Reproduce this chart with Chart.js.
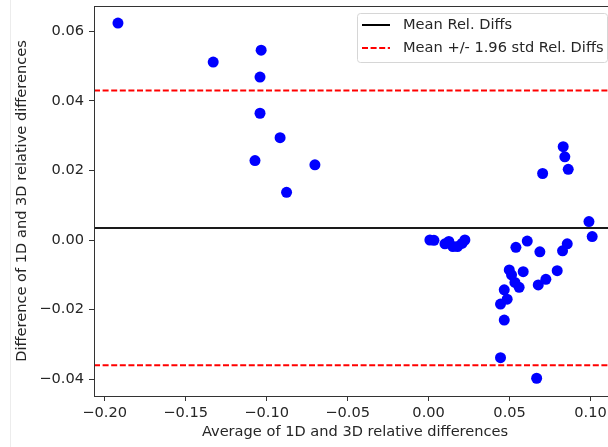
<!DOCTYPE html>
<html>
<head>
<meta charset="utf-8">
<script src="https://cdn.jsdelivr.net/npm/chart.js@4.4.1/dist/chart.umd.min.js"></script>
<style>
  html, body { margin: 0; padding: 0; background: #fff; overflow: hidden; }
  #wrap { position: relative; width: 608px; height: 447px; overflow: hidden; }
  #edge { position: absolute; left: 10px; top: 0; width: 1px; height: 447px; background: #ececec; }
  canvas { position: absolute; left: 0; top: 0; }
</style>
</head>
<body>
<div id="wrap">
  <div id="edge"></div>
  <canvas id="chart" width="630" height="447"></canvas>
</div>
<script>
// averages (x) and differences (y) of 1D / 3D relative differences
const avgX = [
    -0.1918, -0.1330, -0.1034, -0.1041, -0.1041, -0.0917, -0.1072, -0.0702, -0.0877,
    0.0008, 0.0033, 0.0101, 0.0125, 0.0150, 0.0178, 0.0206, 0.0224,
    0.0539, 0.0609, 0.0687, 0.0856, 0.0827, 0.0498, 0.0512, 0.0584, 0.0533, 0.0559,
    0.0794, 0.0724, 0.0677, 0.0467, 0.0485, 0.0444, 0.0467, 0.0444, 0.0667,
    0.0704, 0.0831, 0.0841, 0.0862, 0.0990, 0.1010
];
const diffY = [
    0.0623, 0.0511, 0.0545, 0.0468, 0.0364, 0.0294, 0.0228, 0.0216, 0.0137,
    0.0000, -0.0001, -0.0011, -0.0004, -0.0019, -0.0019, -0.0010, 0.0000,
    -0.0021, -0.0003, -0.0034, -0.0011, -0.0031, -0.0086, -0.0100, -0.0091, -0.0122, -0.0136,
    -0.0088, -0.0113, -0.0129, -0.0143, -0.0170, -0.0184, -0.0230, -0.0338, -0.0397,
    0.0191, 0.0268, 0.0239, 0.0203, 0.0053, 0.0010
];
const meanDiff = 0.00345;
const upperLimit = 0.0429;
const lowerLimit = -0.0360;

const xTicks = [-0.20, -0.15, -0.10, -0.05, 0.00, 0.05, 0.10];
const yTicks = [-0.04, -0.02, 0.00, 0.02, 0.04, 0.06];
const xMin = -0.2066, xMax = 0.1157;
const yMin = -0.0448, yMax = 0.0672;

const legendLabels = ['Mean Rel. Diffs', 'Mean +/- 1.96 std Rel. Diffs'];

const points = avgX.map((x, i) => ({ x: x, y: diffY[i] }));
const hline = v => [{ x: xMin, y: v }, { x: xMax, y: v }];

const fontFamily = "'DejaVu Sans', sans-serif";
const fontSize = 14.6;
const textColor = '#262626';

// top / right spines + legend box like matplotlib
const framePlugin = {
    id: 'frame',
    afterDraw(chart) {
        const { ctx, chartArea: a } = chart;
        ctx.save();
        ctx.strokeStyle = '#333';
        ctx.lineWidth = 1;
        ctx.strokeRect(Math.round(a.left) + 0.5, Math.round(a.top) + 0.5,
            Math.round(a.right - a.left), Math.round(a.bottom - a.top));

        // legend
        const bx = 357, by = 13, bw = 250, bh = 49;
        ctx.fillStyle = 'rgba(255,255,255,0.8)';
        ctx.strokeStyle = '#d6d6d6';
        ctx.beginPath();
        ctx.roundRect(bx + 0.5, by + 0.5, bw, bh, 3);
        ctx.fill();
        ctx.stroke();

        ctx.font = fontSize + 'px ' + fontFamily;
        ctx.textBaseline = 'middle';
        ctx.fillStyle = textColor;
        const rows = [by + 12, by + 35];
        ctx.lineWidth = 2;
        ctx.strokeStyle = '#000';
        ctx.beginPath();
        ctx.moveTo(362, rows[0]); ctx.lineTo(390, rows[0]);
        ctx.stroke();
        ctx.strokeStyle = '#ff0000';
        ctx.setLineDash([6, 2.6]);
        ctx.beginPath();
        ctx.moveTo(362, rows[1]); ctx.lineTo(390, rows[1]);
        ctx.stroke();
        ctx.setLineDash([]);
        legendLabels.forEach((t, i) => ctx.fillText(t, 403, rows[i]));
        ctx.restore();
    }
};

new Chart(document.getElementById('chart'), {
    type: 'scatter',
    data: {
        datasets: [
            {
                label: 'points',
                data: points,
                backgroundColor: '#0000ff',
                borderWidth: 0,
                pointRadius: 5.5,
                pointHoverRadius: 5.5
            },
            {
                label: legendLabels[0],
                type: 'line',
                data: hline(meanDiff),
                borderColor: '#1a1a1a',
                borderWidth: 2,
                pointRadius: 0
            },
            {
                label: legendLabels[1],
                type: 'line',
                data: hline(upperLimit),
                borderColor: '#ff0000',
                borderWidth: 2,
                borderDash: [6, 2.6],
                pointRadius: 0
            },
            {
                label: legendLabels[1] + ' low',
                type: 'line',
                data: hline(lowerLimit),
                borderColor: '#ff0000',
                borderWidth: 2,
                borderDash: [6, 2.6],
                pointRadius: 0
            }
        ]
    },
    options: {
        responsive: false,
        animation: false,
        events: [],
        layout: { padding: { top: 6, right: 14, left: 0, bottom: 0 } },
        plugins: {
            legend: { display: false },
            tooltip: { enabled: false }
        },
        scales: {
            x: {
                type: 'linear',
                min: xMin,
                max: xMax,
                afterBuildTicks: s => { s.ticks = xTicks.map(v => ({ value: v })); },
                afterFit: s => { s.height = 51; s.paddingLeft = 0; s.paddingRight = 0; },
                border: { display: true, color: '#333', width: 1 },
                grid: { display: true, drawOnChartArea: false, drawTicks: true, tickLength: 5, color: '#333' },
                ticks: {
                    color: textColor,
                    padding: 3,
                    maxRotation: 0,
                    font: { family: fontFamily, size: fontSize },
                    callback: v => v.toFixed(2).replace('-', '\u2212')
                },
                title: {
                    display: true,
                    text: 'Average of 1D and 3D relative differences',
                    color: textColor,
                    padding: { top: 0, bottom: 6 },
                    font: { family: fontFamily, size: fontSize }
                }
            },
            y: {
                type: 'linear',
                min: yMin,
                max: yMax,
                afterBuildTicks: s => { s.ticks = yTicks.map(v => ({ value: v })); },
                afterFit: s => { s.width = 94; s.paddingTop = 0; s.paddingBottom = 0; },
                border: { display: true, color: '#333', width: 1 },
                grid: { display: true, drawOnChartArea: false, drawTicks: true, tickLength: 5, color: '#333' },
                ticks: {
                    color: textColor,
                    padding: 5,
                    font: { family: fontFamily, size: fontSize },
                    callback: v => v.toFixed(2).replace('-', '\u2212')
                },
                title: {
                    display: true,
                    text: 'Difference of 1D and 3D relative differences',
                    color: textColor,
                    padding: { top: 13, bottom: 0 },
                    font: { family: fontFamily, size: fontSize }
                }
            }
        }
    },
    plugins: [framePlugin]
});
</script>
</body>
</html>
